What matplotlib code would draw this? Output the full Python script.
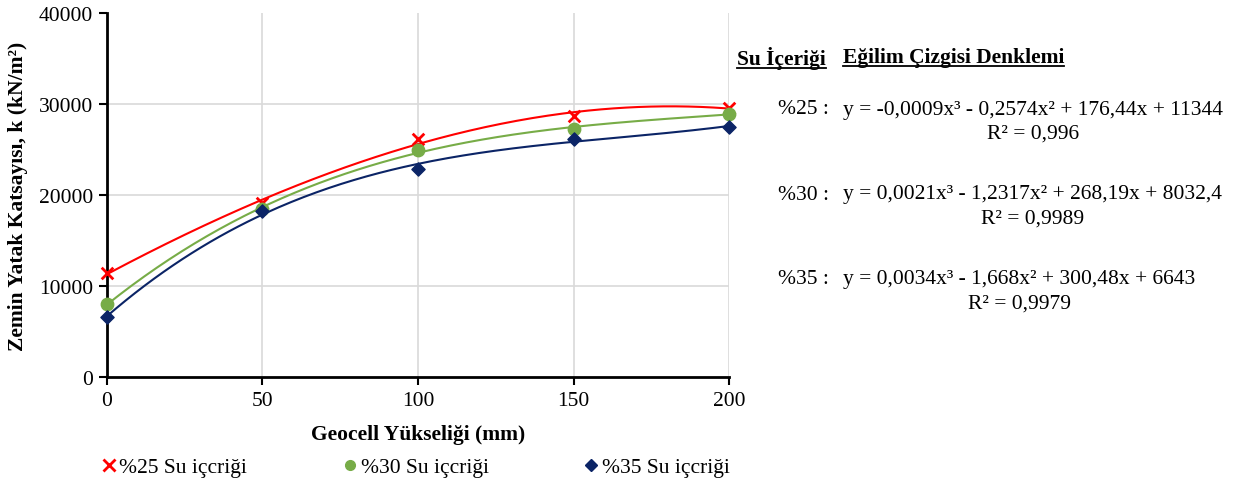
import numpy as np
import matplotlib
matplotlib.use('Agg')
from matplotlib import pyplot as plt
from matplotlib.lines import Line2D

plt.rcParams['font.family'] = ['Liberation Serif', 'DejaVu Serif']

heights = [0, 50, 100, 150, 200]
k_25 = [11400, 19100, 26200, 28700, 29600]
k_30 = [8000, 18500, 24900, 27300, 28900]
k_35 = [6600, 18200, 22900, 26200, 27500]

labels = ['%25 Su içcriği', '%30 Su içcriği', '%35 Su içcriği']
colors = ['#FF0000', '#77AC47', '#0B2466']
markers = ['x', 'o', 'D']

eq_names = ['%25 :', '%30 :', '%35 :']
equations = ['y = -0,0009x³ - 0,2574x² + 176,44x + 11344',
             'y = 0,0021x³ - 1,2317x² + 268,19x + 8032,4',
             'y = 0,0034x³ - 1,668x² + 300,48x + 6643']
r2_texts = ['R² = 0,996', 'R² = 0,9989', 'R² = 0,9979']

fig = plt.figure(figsize=(12.38, 4.85), dpi=100)
ax = fig.add_axes([0.0864, 0.2206, 0.5025, 0.7505])

xs = np.linspace(0, 200, 200)
for ys, c, m in zip([k_25, k_30, k_35], colors, markers):
    # 3rd order trend line like excel
    coef = np.polyfit(heights, ys, 3)
    ax.plot(xs, np.polyval(coef, xs), color=c, lw=1.5, zorder=3, clip_on=False)
    if m == 'x':
        ax.scatter(heights, ys, marker='x', s=70, color=c, linewidths=2, zorder=4, clip_on=False)
    elif m == 'o':
        ax.scatter(heights, ys, marker='o', s=80, color=c, zorder=4, clip_on=False)
    else:
        ax.scatter(heights, ys, marker='D', s=45, color=c, zorder=4, clip_on=False)

ax.set_xlim(0, 200)
ax.set_ylim(0, 40000)
ax.set_xticks([0, 50, 100, 150, 200])
ax.set_yticks([0, 10000, 20000, 30000, 40000])
ax.tick_params(labelsize=15.5, length=6, width=1.5, direction='out', pad=4)
ax.grid(True, color='#D9D9D9', lw=1.2)
ax.set_axisbelow(True)
ax.yaxis.get_gridlines()[-1].set_visible(False)
ax.yaxis.get_gridlines()[0].set_visible(False)
for s in ['top', 'right']:
    ax.spines[s].set_visible(False)
for s in ['left', 'bottom']:
    ax.spines[s].set_linewidth(2)

ax.set_xlabel('Geocell Yükseliği (mm)', fontsize=15.5, fontweight='bold', labelpad=10)
ax.set_ylabel('Zemin Yatak Katsayısı, k (kN/m²)', fontsize=15.5, fontweight='bold', labelpad=8)

# legend with small markers
proxies = [
    Line2D([], [], ls='none', marker='x', color=colors[0], markersize=8, markeredgewidth=2),
    Line2D([], [], ls='none', marker='o', color=colors[1], markersize=7),
    Line2D([], [], ls='none', marker='D', color=colors[2], markersize=6),
]
fig.legend(handles=proxies, labels=labels, loc='center left', bbox_to_anchor=(100 / 1238, 0.035),
           ncol=3, frameon=False, fontsize=15.5, handletextpad=0.1, columnspacing=4.37,
           handlelength=0.8, borderpad=0, borderaxespad=0)

# equations on the right
W, H = 1238, 485
def fx(p):
    return p / W
def fy(p):
    return 1 - p / H

h1 = fig.text(fx(737), fy(58), 'Su İçeriği', fontsize=15.5, fontweight='bold', va='center', ha='left')
h2 = fig.text(fx(843), fy(58), 'Eğilim Çizgisi Denklemi', fontsize=15.5, fontweight='bold', va='center', ha='left')

fig.canvas.draw()
r = fig.canvas.get_renderer()

eq_y = [110, 195, 280]
for name, eq, r2, y in zip(eq_names, equations, r2_texts, eq_y):
    fig.text(fx(829), fy(y), name, fontsize=15.5, ha='right', va='center')
    te = fig.text(fx(843), fy(y), eq, fontsize=15.5, ha='left', va='center')
    bb = te.get_window_extent(r).transformed(fig.transFigure.inverted())
    fig.text((bb.x0 + bb.x1) / 2, fy(y + 24), r2, fontsize=15.5, ha='center', va='center')

for t in [h1, h2]:
    bb = t.get_window_extent(r).transformed(fig.transFigure.inverted())
    fig.add_artist(Line2D([bb.x0, bb.x1], [bb.y0 + 0.002, bb.y0 + 0.002], color='black', lw=1.3,
                          transform=fig.transFigure))

fig.savefig('out.png', dpi=100)
